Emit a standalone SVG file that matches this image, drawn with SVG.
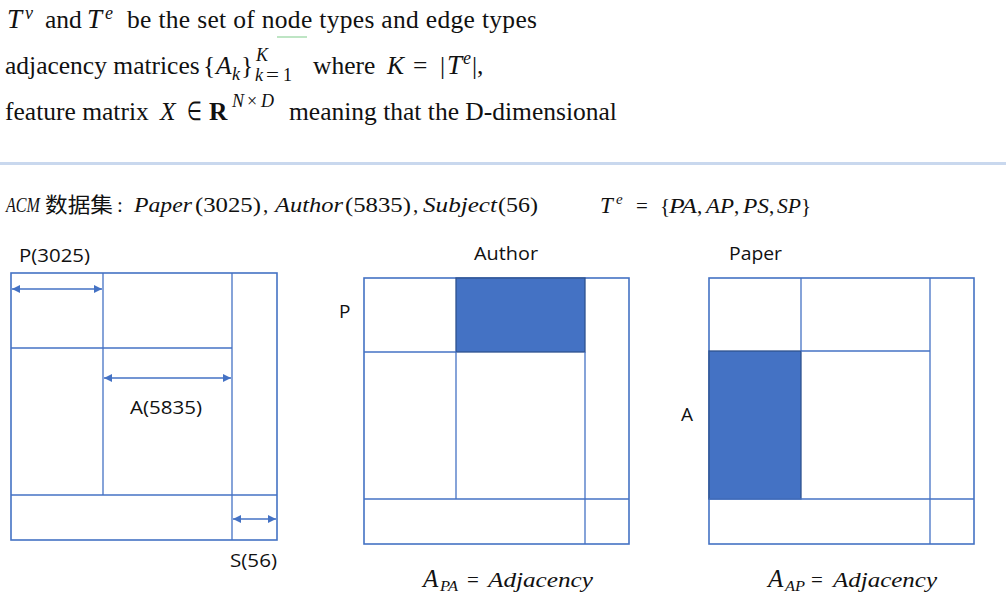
<svg xmlns="http://www.w3.org/2000/svg" width="1006" height="599" viewBox="0 0 1006 599">
<style>
.tx{font-family:"Liberation Serif","Times New Roman",serif;font-size:25.5px;fill:#111}
.it{font-style:italic}
.cal{font-style:italic;font-size:27px}
.sup{font-size:18px}
.mt{font-family:"Liberation Serif","Times New Roman",serif;font-size:21px;fill:#111}
.cjk{font-family:"Noto Sans CJK SC",sans-serif;font-style:normal}
.lb{font-family:"Open Sans","Liberation Sans",sans-serif;font-size:19px;fill:#111}
.ln{stroke:#4472C4;stroke-width:1.3;fill:none}
.box{stroke:#4472C4;stroke-width:1.6;fill:#fff}
.blk{fill:#4472C4;stroke:#2F528F;stroke-width:1.3}
.arr{stroke:#4472C4;stroke-width:1.3;fill:none;marker-start:url(#ah);marker-end:url(#ah)}
</style>
<defs>
<marker id="ah" viewBox="0 0 10 10" refX="10" refY="5" markerWidth="9" markerHeight="8" markerUnits="userSpaceOnUse" orient="auto-start-reverse">
<path d="M0,0 L10,5 L0,10 z" fill="#4472C4"/>
</marker>
</defs>
<rect width="1006" height="599" fill="#fff"/>

<g id="paragraph">
<text class="tx" y="28"><tspan class="cal" x="7">T</tspan><tspan class="it sup" x="25" y="19">v</tspan><tspan x="45" y="28">and</tspan><tspan class="cal" x="87">T</tspan><tspan class="it sup" x="105" y="19">e</tspan><tspan x="127" y="28" textLength="410" lengthAdjust="spacing">be the set of node types and edge types</tspan></text>
<line x1="277" y1="37" x2="307" y2="37" stroke="#a8dcb0" stroke-width="1.5"/>
<text class="tx" y="74"><tspan x="5">adjacency matrices</tspan><tspan x="203">{</tspan><tspan class="it" x="216">A</tspan><tspan class="it sup" x="232" y="80">k</tspan><tspan x="241" y="74">}</tspan><tspan class="it sup" x="256" y="61">K</tspan><tspan class="it sup" x="255" y="81">k</tspan><tspan class="sup" x="266" y="81" textLength="13" lengthAdjust="spacingAndGlyphs">=</tspan><tspan class="sup" x="283" y="81">1</tspan><tspan x="313" y="74">where</tspan><tspan class="it" x="387">K</tspan><tspan x="413">=</tspan><tspan x="440">|</tspan><tspan class="cal" x="447">T</tspan><tspan class="it sup" x="463" y="64">e</tspan><tspan x="472" y="74">|,</tspan></text>
<text class="tx" y="120"><tspan x="5">feature matrix</tspan><tspan class="it" x="160">X</tspan><tspan x="187" textLength="15" lengthAdjust="spacingAndGlyphs">∈</tspan><tspan x="209" font-weight="bold">R</tspan><tspan class="it sup" x="232" y="107">N</tspan><tspan class="sup" x="247" y="107">×</tspan><tspan class="it sup" x="261" y="107">D</tspan><tspan x="289" y="120">meaning that the D-dimensional</tspan></text>
</g>

<rect id="separator" x="0" y="162" width="1006" height="3" fill="#c9d8ee"/>

<g id="dataset-line">
<text class="mt" y="212"><tspan class="it" x="6" textLength="34" lengthAdjust="spacingAndGlyphs">ACM</tspan><tspan class="cjk" x="45" font-size="21" textLength="68" lengthAdjust="spacingAndGlyphs">数据集</tspan><tspan x="117">:</tspan><tspan class="it" x="134" textLength="58" lengthAdjust="spacingAndGlyphs">Paper</tspan><tspan x="195" textLength="66" lengthAdjust="spacingAndGlyphs">(3025)</tspan><tspan x="263">,</tspan><tspan class="it" x="275" textLength="68" lengthAdjust="spacingAndGlyphs">Author</tspan><tspan x="345" textLength="66" lengthAdjust="spacingAndGlyphs">(5835)</tspan><tspan x="413">,</tspan><tspan class="it" x="423" textLength="74" lengthAdjust="spacingAndGlyphs">Subject</tspan><tspan x="498" textLength="40" lengthAdjust="spacingAndGlyphs">(56)</tspan></text>
<text class="mt" y="213"><tspan class="it" x="600" font-size="23">T</tspan><tspan class="it" x="616" y="204" font-size="15">e</tspan><tspan x="636" y="213">=</tspan><tspan x="660">{</tspan><tspan class="it" x="669" textLength="28" lengthAdjust="spacingAndGlyphs">PA</tspan><tspan x="697">,</tspan><tspan class="it" x="706" textLength="28" lengthAdjust="spacingAndGlyphs">AP</tspan><tspan x="734">,</tspan><tspan class="it" x="743" textLength="26" lengthAdjust="spacingAndGlyphs">PS</tspan><tspan x="769">,</tspan><tspan class="it" x="777" textLength="24" lengthAdjust="spacingAndGlyphs">SP</tspan><tspan x="801">}</tspan></text>
</g>

<g id="labels">
<text class="lb" x="19" y="262" textLength="71" lengthAdjust="spacingAndGlyphs">P(3025)</text>
<text class="lb" x="474" y="260" textLength="64" lengthAdjust="spacingAndGlyphs">Author</text>
<text class="lb" x="729" y="260" textLength="53" lengthAdjust="spacingAndGlyphs">Paper</text>
</g>

<g id="matrix-all">
<rect class="box" x="11" y="273" width="266" height="267"/>
<line class="ln" x1="103" y1="273" x2="103" y2="495"/>
<line class="ln" x1="232" y1="273" x2="232" y2="540"/>
<line class="ln" x1="11" y1="348" x2="232" y2="348"/>
<line class="ln" x1="11" y1="495" x2="277" y2="495"/>
<text class="lb" x="130" y="414" textLength="72" lengthAdjust="spacingAndGlyphs">A(5835)</text>
<text class="lb" x="230" y="567" textLength="47" lengthAdjust="spacingAndGlyphs">S(56)</text>
</g>

<g id="connectors">
<line class="arr" x1="12" y1="289" x2="102" y2="289"/>
<line class="arr" x1="104" y1="378" x2="231" y2="378"/>
<line class="arr" x1="233" y1="519" x2="276" y2="519"/>
</g>

<g id="matrix-pa">
<rect class="box" x="364" y="278" width="265" height="266"/>
<rect class="blk" x="456" y="278" width="129" height="74"/>
<line class="ln" x1="456" y1="352" x2="456" y2="499"/>
<line class="ln" x1="585" y1="352" x2="585" y2="544"/>
<line class="ln" x1="364" y1="352" x2="456" y2="352"/>
<line class="ln" x1="364" y1="499" x2="629" y2="499"/>
<text class="lb" x="339" y="318">P</text>
<text class="mt" y="587" font-size="23"><tspan class="it" x="423" font-size="25">A</tspan><tspan class="it" x="440" y="591" font-size="15" textLength="18" lengthAdjust="spacingAndGlyphs">PA</tspan><tspan x="467" y="587">=</tspan><tspan class="it" x="488" textLength="105" lengthAdjust="spacingAndGlyphs">Adjacency</tspan></text>
</g>

<g id="matrix-ap">
<rect class="box" x="709" y="278" width="265" height="266"/>
<rect class="blk" x="709" y="351" width="92" height="148"/>
<line class="ln" x1="801" y1="278" x2="801" y2="351"/>
<line class="ln" x1="930" y1="278" x2="930" y2="544"/>
<line class="ln" x1="801" y1="351" x2="930" y2="351"/>
<line class="ln" x1="801" y1="499" x2="974" y2="499"/>
<line class="ln" x1="709" y1="499" x2="801" y2="499"/>
<text class="lb" x="681" y="421">A</text>
<text class="mt" y="587" font-size="23"><tspan class="it" x="768" font-size="25">A</tspan><tspan class="it" x="785" y="591" font-size="15" textLength="20" lengthAdjust="spacingAndGlyphs">AP</tspan><tspan x="811" y="587">=</tspan><tspan class="it" x="833" textLength="104" lengthAdjust="spacingAndGlyphs">Adjacency</tspan></text>
</g>
</svg>
